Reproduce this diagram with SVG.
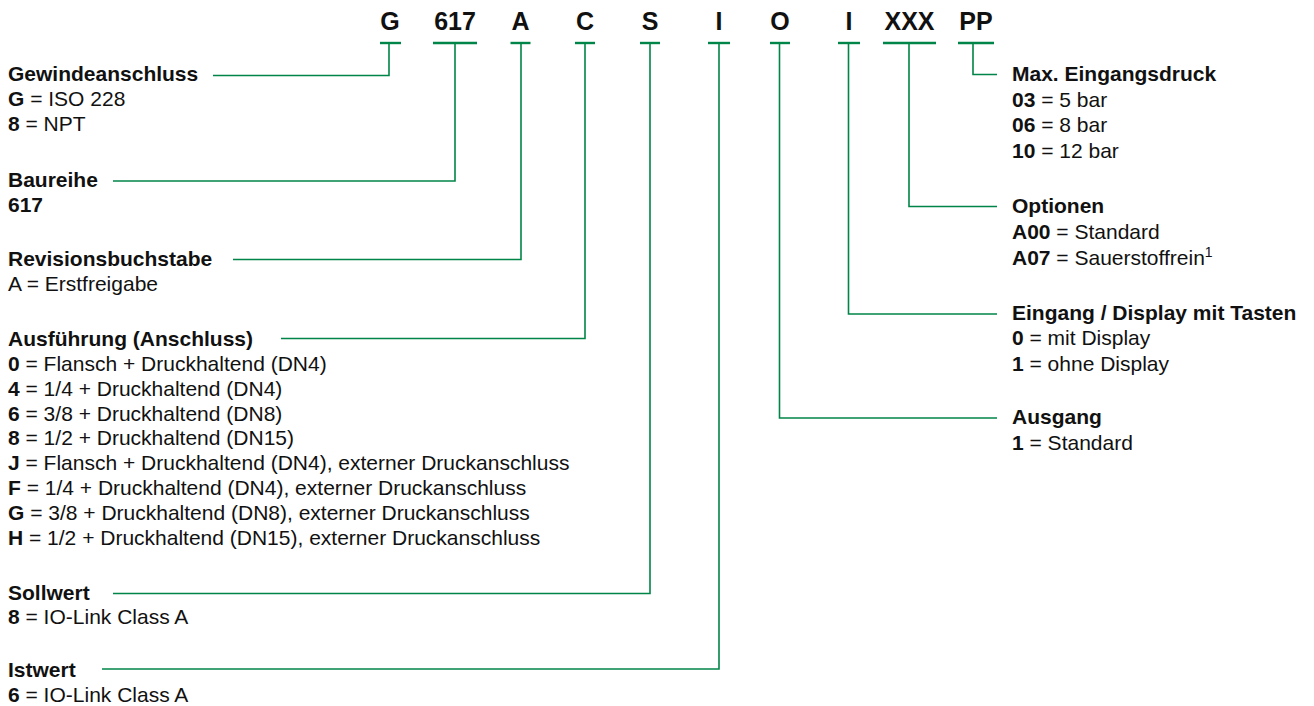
<svg xmlns="http://www.w3.org/2000/svg" width="1314" height="706" viewBox="0 0 1314 706">
<style>
text{font-family:"Liberation Sans",Arial,Helvetica,sans-serif;font-size:21px;fill:#111}
.code{font-weight:bold;font-size:25px;text-anchor:middle}
.h{font-weight:bold}
.b{font-weight:bold}
.bar{stroke:#008548;stroke-width:2.4;fill:none}
.ln{stroke:#008548;stroke-width:1.6;fill:none}
.sup{font-size:14px}
</style>
<rect width="1314" height="706" fill="#fff"/>
<g id="codes">
<g id="code-G"><text class="code" x="390" y="29.5">G</text><line class="bar" x1="380" y1="43" x2="401" y2="43"/></g>
<g id="code-617"><text class="code" x="455" y="29.5">617</text><line class="bar" x1="433" y1="43" x2="477" y2="43"/></g>
<g id="code-A"><text class="code" x="520.5" y="29.5">A</text><line class="bar" x1="510.5" y1="43" x2="530.5" y2="43"/></g>
<g id="code-C"><text class="code" x="585" y="29.5">C</text><line class="bar" x1="575" y1="43" x2="595" y2="43"/></g>
<g id="code-S"><text class="code" x="650" y="29.5">S</text><line class="bar" x1="640" y1="43" x2="660" y2="43"/></g>
<g id="code-I1"><text class="code" x="719" y="29.5">I</text><line class="bar" x1="708" y1="43" x2="730" y2="43"/></g>
<g id="code-O"><text class="code" x="780" y="29.5">O</text><line class="bar" x1="770" y1="43" x2="790" y2="43"/></g>
<g id="code-I2"><text class="code" x="849" y="29.5">I</text><line class="bar" x1="838" y1="43" x2="860" y2="43"/></g>
<g id="code-XXX"><text class="code" x="909.5" y="29.5">XXX</text><line class="bar" x1="883" y1="43" x2="936" y2="43"/></g>
<g id="code-PP"><text class="code" x="976" y="29.5">PP</text><line class="bar" x1="958" y1="43" x2="994" y2="43"/></g>
</g>
<g id="connectors">
<polyline class="ln" points="389,43 389,75.5 213,75.5"/>
<polyline class="ln" points="455,43 455,181 113,181"/>
<polyline class="ln" points="521,43 521,259.5 233,259.5"/>
<polyline class="ln" points="585,43 585,338.5 281,338.5"/>
<polyline class="ln" points="650,43 650,593.5 113,593.5"/>
<polyline class="ln" points="719,43 719,669 102,669"/>
<polyline class="ln" points="779.5,43 779.5,418 997,418"/>
<polyline class="ln" points="848.5,43 848.5,314 997,314"/>
<polyline class="ln" points="909,43 909,206.5 997,206.5"/>
<polyline class="ln" points="973,43 973,74.5 997,74.5"/>
</g>
<g id="node-gewinde">
<text class="h" x="8" y="81">Gewindeanschluss</text>
<text x="8" y="105.5"><tspan class="b">G</tspan> = ISO 228</text>
<text x="8" y="130.5"><tspan class="b">8</tspan> = NPT</text>
</g>
<g id="node-baureihe">
<text class="h" x="8" y="187">Baureihe</text>
<text class="h" x="8" y="211.5">617</text>
</g>
<g id="node-revision">
<text class="h" x="8" y="266">Revisionsbuchstabe</text>
<text x="8" y="291">A = Erstfreigabe</text>
</g>
<g id="node-ausfuehrung">
<text class="h" x="8" y="346">Ausführung (Anschluss)</text>
<text x="8" y="371"><tspan class="b">0</tspan> = Flansch + Druckhaltend (DN4)</text>
<text x="8" y="395.5"><tspan class="b">4</tspan> = 1/4 + Druckhaltend (DN4)</text>
<text x="8" y="420.5"><tspan class="b">6</tspan> = 3/8 + Druckhaltend (DN8)</text>
<text x="8" y="445"><tspan class="b">8</tspan> = 1/2 + Druckhaltend (DN15)</text>
<text x="8" y="470"><tspan class="b">J</tspan> = Flansch + Druckhaltend (DN4), externer Druckanschluss</text>
<text x="8" y="495"><tspan class="b">F</tspan> = 1/4 + Druckhaltend (DN4), externer Druckanschluss</text>
<text x="8" y="520"><tspan class="b">G</tspan> = 3/8 + Druckhaltend (DN8), externer Druckanschluss</text>
<text x="8" y="544.5"><tspan class="b">H</tspan> = 1/2 + Druckhaltend (DN15), externer Druckanschluss</text>
</g>
<g id="node-sollwert">
<text class="h" x="8" y="599.5">Sollwert</text>
<text x="8" y="623.5"><tspan class="b">8</tspan> = IO-Link Class A</text>
</g>
<g id="node-istwert">
<text class="h" x="8" y="676.5">Istwert</text>
<text x="8" y="701.5"><tspan class="b">6</tspan> = IO-Link Class A</text>
</g>
<g id="node-druck">
<text class="h" x="1012" y="81">Max. Eingangsdruck</text>
<text x="1012" y="106.5"><tspan class="b">03</tspan> = 5 bar</text>
<text x="1012" y="132"><tspan class="b">06</tspan> = 8 bar</text>
<text x="1012" y="157.5"><tspan class="b">10</tspan> = 12 bar</text>
</g>
<g id="node-optionen">
<text class="h" x="1012" y="213">Optionen</text>
<text x="1012" y="239"><tspan class="b">A00</tspan> = Standard</text>
<text x="1012" y="264.5"><tspan class="b">A07</tspan> = Sauerstoffrein<tspan class="sup" dy="-8">1</tspan></text>
</g>
<g id="node-eingang">
<text class="h" x="1012" y="320">Eingang / Display mit Tasten</text>
<text x="1012" y="345"><tspan class="b">0</tspan> = mit Display</text>
<text x="1012" y="370.5"><tspan class="b">1</tspan> = ohne Display</text>
</g>
<g id="node-ausgang">
<text class="h" x="1012" y="424">Ausgang</text>
<text x="1012" y="449.5"><tspan class="b">1</tspan> = Standard</text>
</g>
</svg>
